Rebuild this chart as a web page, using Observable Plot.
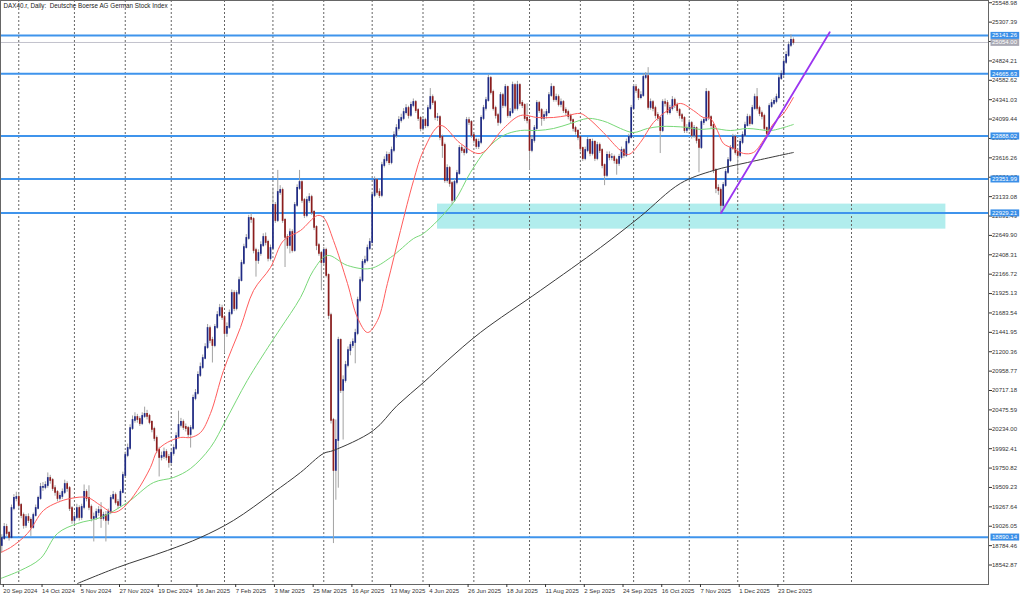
<!DOCTYPE html>
<html><head><meta charset="utf-8">
<script src="https://cdn.jsdelivr.net/npm/d3@7"></script>
<script src="https://cdn.jsdelivr.net/npm/@observablehq/plot@0.6"></script>
<style>
html,body{margin:0;padding:0;background:#fff;}
#chart svg{display:block;}
</style></head><body><div id="chart"></div>
<script>
const title = "DAX40.r, Daily:  Deutsche Boerse AG German Stock Index";
const dateLabels = ["20 Sep 2024","14 Oct 2024","5 Nov 2024","27 Nov 2024","19 Dec 2024","16 Jan 2025","7 Feb 2025","3 Mar 2025","25 Mar 2025","16 Apr 2025","13 May 2025","4 Jun 2025","26 Jun 2025","18 Jul 2025","11 Aug 2025","2 Sep 2025","24 Sep 2025","16 Oct 2025","7 Nov 2025","1 Dec 2025","23 Dec 2025"];
const labelBars = [0,16,32,48,64,80,96,112,128,144,160,176,192,208,224,240,256,272,288,304,320];
const monthBars = [7,30,51,70,92,112,133,153,174,195,218,239,261,284,304,323,351];
const yTicks = [18542.87,18784.46,19026.05,19267.64,19509.23,19750.82,19992.41,20234.00,20475.59,20717.18,20958.77,21200.36,21441.95,21683.54,21925.13,22166.72,22408.31,22649.90,22891.49,23133.08,23374.67,23616.26,23857.85,24099.44,24341.03,24582.62,24824.21,25065.80,25307.39,25548.98];
const levels = [25141.26,24665.63,23888.02,23351.99,22929.21,18890.14];

const firstOpen = 18786;
const closes = [
18873,19011,18936,18886,19247,19372,19384,19285,19160,19035,
19135,19098,19011,19160,19247,19372,19509,19509,19534,19621,
19596,19496,19447,19372,19397,19447,19546,19496,19247,19098,
19135,19247,19135,19260,19447,19372,19260,19123,19135,19197,
19222,19123,19160,19098,19197,19372,19409,19322,19285,19447,
19658,19908,19995,20244,20344,20381,20356,20306,20394,20419,
20394,20319,20232,20120,19970,19883,19895,19945,19883,19820,
19933,19995,20144,20282,20319,20257,20244,20169,20244,20618,
20680,20905,21004,21116,21253,21490,21341,21278,21503,21652,
21739,21627,21428,21503,21677,21926,21739,21926,22088,22300,
22499,22612,22861,22848,22462,22337,22425,22524,22624,22562,
22362,22487,23023,22836,23185,23210,22836,22624,22524,22686,
22462,23023,23235,23309,23085,22898,23085,23122,22936,22749,
22524,22425,22313,22462,22151,21652,20344,19721,20095,21341,
20718,20842,21029,21216,21278,21316,21428,21839,22088,22313,
22337,22487,22562,23147,23334,23185,23147,23521,23583,23646,
23558,23708,23895,23982,24082,24107,24181,24231,24144,24269,
24306,24206,24107,23982,24082,24019,24231,24368,24306,24119,
24119,23870,23770,23334,23484,23297,23085,23309,23421,23733,
23708,23683,24082,24057,23895,23833,23758,23808,24107,24231,
24331,24605,24431,24231,24144,24057,24393,24269,24493,24144,
24181,24518,24231,24518,24294,24269,24107,24082,23708,23833,
23982,24294,24206,24107,24144,24181,24393,24493,24343,24368,
24281,24306,24206,24181,24132,24082,23982,23945,23870,23733,
23608,23708,23833,23671,23808,23608,23770,23708,23521,23397,
23646,23621,23621,23583,23546,23621,23708,23646,23808,23870,
24231,24493,24456,24368,24393,24618,24630,24244,24306,24231,
24144,24107,23957,24306,24294,24181,24231,24331,24269,24206,
24144,24107,23957,23982,24044,23895,23982,23833,23745,24057,
24082,24431,24119,24019,23459,23235,23210,23023,23272,23434,
23583,23733,23870,23683,23646,23808,23895,24019,24119,24044,
24231,24368,24231,24169,24132,23982,23920,24256,24294,24319,
24368,24605,24655,24805,24892,25016,25079,25054];
const highs = [
18920,19060,19050,18960,19290,19420,19450,19420,19310,19190,
19170,19180,19130,19190,19290,19400,19560,19570,19580,19690,
19660,19620,19530,19470,19440,19490,19600,19580,19520,19270,
19190,19300,19280,19300,19540,19480,19530,19290,19190,19240,
19270,19320,19200,19210,19240,19410,19460,19440,19360,19480,
19700,19950,20050,20290,20400,20440,20420,20390,20440,20510,
20470,20420,20340,20260,20150,20010,19950,20000,19980,19920,
19970,20040,20190,20460,20370,20350,20300,20270,20280,20660,
20730,20950,21060,21160,21300,21540,21520,21380,21540,21700,
21790,21780,21650,21560,21720,21970,21960,21960,22130,22340,
22540,22660,22900,22920,22870,22490,22470,22570,22670,22680,
22590,22530,23240,23060,23460,23270,23240,22860,22660,22730,
22720,23060,23280,23460,23330,23110,23130,23170,23150,22960,
22770,22550,22450,22500,22490,22170,21680,20370,20350,21380,
21360,20900,21080,21260,21320,21360,21480,21880,22130,22350,
22390,22530,22610,23190,23380,23360,23230,23560,23630,23690,
23680,23750,23940,24030,24130,24160,24230,24280,24260,24310,
24350,24330,24230,24130,24130,24110,24270,24480,24400,24330,
24170,24140,23900,23800,23530,23510,23320,23350,23460,23770,
23770,23740,24120,24120,24080,23920,23860,23850,24140,24270,
24370,24650,24630,24460,24260,24170,24430,24420,24530,24510,
24230,24560,24540,24570,24540,24330,24290,24290,24100,23880,
24020,24330,24320,24230,24190,24220,24430,24540,24510,24410,
24400,24350,24330,24240,24210,24160,24100,24010,23970,23890,
23750,23750,23870,23850,23850,23830,23810,23800,23730,23540,
23690,23690,23670,23650,23610,23660,23750,23730,23850,23910,
24270,24530,24530,24480,24440,24660,24680,24740,24350,24330,
24260,24180,24130,24340,24350,24330,24270,24380,24360,24300,
24230,24170,24130,24030,24090,24070,24020,24000,23860,24090,
24120,24480,24450,24140,24040,23480,23280,23240,23310,23470,
23620,23770,23910,23900,23720,23850,23940,24060,24160,24150,
24270,24410,24480,24260,24200,24160,24000,24290,24340,24360,
24410,24640,24700,24850,24940,25060,25150,25110];
const lows = [
18690,18850,18900,18840,18870,19220,19330,19250,19120,18990,
19000,19060,18900,18990,19140,19230,19350,19460,19480,19500,
19550,19460,19400,19330,19340,19360,19420,19450,19210,19050,
19040,19110,19090,19100,19230,19330,19220,19080,18830,19100,
19150,19000,19090,18830,19040,19170,19350,19290,19240,19260,
19430,19640,19880,19970,20220,20310,20310,20270,20280,20370,
20350,20290,20190,20080,19930,19640,19840,19860,19840,19750,
19790,19900,19970,20120,20250,20220,20200,20130,20000,20220,
20590,20660,20880,20980,21100,21230,21300,21060,21250,21480,
21630,21590,21180,21380,21480,21650,21700,21710,21900,22070,
22280,22480,22590,22800,22420,22130,22290,22390,22500,22520,
22320,22330,22460,22800,22810,23150,22800,22250,22480,22420,
22430,22440,23000,23210,23050,22860,22870,23050,22900,22710,
22460,22390,21960,22280,22120,21600,20300,18810,19350,19500,
20680,20100,20810,21000,21150,21240,21050,21400,21810,22060,
22280,22310,22460,22540,23120,23150,23110,23120,23490,23550,
23520,23530,23680,23860,23950,24050,24080,24150,24100,24120,
24240,24170,24070,23940,23950,23980,23990,24210,24270,24080,
24070,23830,23610,23300,23300,23250,23030,23060,23280,23400,
23670,23640,23660,24020,23860,23790,23720,23720,23780,24080,
24200,24310,24400,24200,24100,24010,24030,24230,24240,24110,
24110,24160,24200,24200,24260,24230,24070,24040,23460,23680,
23800,23960,24170,24010,24070,24100,24160,24370,24310,24310,
24250,24240,24170,24140,24090,24040,23940,23900,23830,23690,
23570,23580,23680,23630,23640,23570,23580,23670,23480,23270,
23370,23580,23580,23540,23400,23510,23590,23610,23620,23780,
23850,24210,24420,24330,24340,24370,24590,24210,24210,24190,
24100,24070,23670,23930,24250,24150,24150,24200,24230,24170,
24100,24060,23920,23920,23950,23850,23860,23790,23430,23720,
24020,24060,24080,23980,23420,23170,23150,22930,22990,23250,
23410,23560,23710,23650,23420,23620,23780,23870,24000,24010,
24020,24210,24200,24130,24090,23950,23890,23900,24230,24270,
24290,24340,24580,24630,24780,24870,24990,25020];

const ma20Bar = [-0.5,3.6,10.6,17.2,23,28.4,35.4,40.8,46.1,50.3,56,61.4,64.3,68.4,73.8,78,82.1,86.2,91.6,98.6,104,111,116.4,123.4,130.4,132.9,137,142.8,146.9,151.1,155.2,159.3,164.7,170.1,174.2,181.2,189.5,197.7,207.2,214.3,221.3,227.9,233.7,239,241.9,248.5,255.6,258.9,263.8,269.2,275,280.3,285.7,289.8,292.7,295.6,298.1,302.2,306.4,310.5,314.6,318.8,322.9,327];
const ma20Val = [18699,18761,18936,19222,19322,19372,19384,19285,19197,19260,19472,19758,19970,20070,20132,20132,20194,20431,20967,21503,21964,22250,22587,22711,22898,22873,22587,22051,21627,21440,21590,22051,22711,23334,23708,24020,23795,23671,23982,24144,24119,24119,24144,24169,24119,23932,23708,23658,23808,24057,24206,24294,24206,24119,24107,23957,23795,23733,23671,23683,23833,24044,24169,24368];
const ma50Bar = [-0.5,7.7,16,23,31.3,40.8,51.9,62.7,71,78,86.2,92.5,101.4,111,115.1,123.4,128.7,134.5,142.8,152.3,160.6,170.1,174.2,186.6,193.6,200.6,207.2,214.3,221.3,227.9,234.9,241.9,246.1,250.2,255.6,260.9,266.7,272.1,277.4,283.2,288.6,294,301,308,317.5,321.6,327];
const ma50Val = [18375,18475,18624,18936,19060,19135,19322,19571,19634,19746,20007,20344,20842,21303,21490,21876,22213,22400,22275,22238,22375,22611,22674,23060,23434,23733,23895,23957,23957,23982,24044,24107,24094,24057,23982,23932,23982,24007,24007,23995,23970,23982,23957,23982,23957,23982,24032];
const ma200Bar = [31.3,47.8,68.4,82.1,95.7,112.2,123.4,132.9,137,153.5,163.3,174.2,184.1,197.7,222.5,247.3,263.8,280.3,294,308,327];
const ma200Val = [18313,18512,18724,18886,19098,19447,19696,19933,19970,20219,20530,20817,21091,21440,21964,22499,22886,23297,23459,23558,23683];

const zoneBars = [180, 390];
const zonePrices = [22728, 23040];
const trendBars = [297.1, 342];
const trendPrices = [22929, 25182];

const candles = closes.map((c, i) => ({
  i, c, o: i === 0 ? firstOpen : closes[i - 1], h: highs[i], l: lows[i]
}));
const lastClose = closes[closes.length - 1];
const toLine = (bars, vals) => bars.map((b, k) => ({b, v: vals[k]}));
const labelOf = new Map(labelBars.map((b, k) => [b, dateLabels[k]]));
const FONT = "Liberation Sans, Arial, sans-serif";

const chart = Plot.plot({
  width: 1024, height: 597,
  marginLeft: 0, marginRight: 36, marginTop: 0, marginBottom: 13,
  x: {domain: [-0.54, 407.6], axis: null},
  y: {domain: [18300, 25577], axis: null},
  color: {type: "identity"},
  style: {fontFamily: FONT, fontSize: "6px", color: "#333", background: "#fff", overflow: "visible"},
  marks: [
    Plot.rect([0], {x1: () => zoneBars[0], x2: () => zoneBars[1], y1: () => zonePrices[0], y2: () => zonePrices[1], fill: "#b1eded"}),
    Plot.ruleX(monthBars, {stroke: "#666", strokeDasharray: "2,2", strokeWidth: 1}),
    Plot.ruleY(levels, {stroke: "#3f94ec", strokeWidth: 2}),
    Plot.ruleY([lastClose], {stroke: "#c2c2cc", strokeWidth: 1}),
    Plot.ruleX(candles, {x: "i", y1: "l", y2: "h", stroke: "#a2a2a2", strokeWidth: 1}),
    Plot.ruleX(candles, {x: "i", y1: "o", y2: "c", stroke: d => d.c >= d.o ? "#1f2a85" : "#8c1d1d", strokeWidth: 1.7, strokeLinecap: "square"}),
    Plot.line(toLine(ma200Bar, ma200Val), {x: "b", y: "v", stroke: "#3a3a3a", strokeWidth: 1, curve: "catmull-rom", clip: true}),
    Plot.line(toLine(ma50Bar, ma50Val), {x: "b", y: "v", stroke: "#78d878", strokeWidth: 1, curve: "catmull-rom", clip: true}),
    Plot.line(toLine(ma20Bar, ma20Val), {x: "b", y: "v", stroke: "#ff5c5c", strokeWidth: 1, curve: "catmull-rom", clip: true}),
    Plot.line(toLine(trendBars, trendPrices), {x: "b", y: "v", stroke: "#9b35f0", strokeWidth: 1.8}),
    Plot.frame({stroke: "#666"}),
    Plot.axisY({ticks: yTicks, anchor: "right", tickSize: 3, tickPadding: 0.5, tickFormat: d => d.toFixed(2), fontSize: 6, fill: "#333"}),
    Plot.axisX({ticks: labelBars, anchor: "bottom", tickSize: 3, tickPadding: 1, tickFormat: d => labelOf.get(d), textAnchor: "start", dx: 1.5, fontSize: 6, fill: "#333"}),
    Plot.text([title], {frameAnchor: "top-left", dx: 3, dy: 3, lineAnchor: "top", fontSize: 6.3, fill: "#222"}),
    Plot.text([lastClose], {y: d => d, frameAnchor: "right", dx: 3.5, textAnchor: "start", text: d => d.toFixed(2), fill: "white", fontSize: 6}),
    Plot.text(levels, {y: d => d, frameAnchor: "right", dx: 3.5, textAnchor: "start", text: d => d.toFixed(2), fill: "white", fontSize: 6})
  ]
});
document.getElementById("chart").appendChild(chart);

// coloured boxes behind the level / price labels (white text in the right margin)
const boxColour = new Map(levels.map(v => [v.toFixed(2), "#3a8fe8"]));
boxColour.set(lastClose.toFixed(2), "#a9a9b4");
chart.querySelectorAll("text").forEach(t => {
  const g = t.parentNode;
  const fill = t.getAttribute("fill") || (g && g.getAttribute("fill"));
  if (fill !== "white") return;
  const col = boxColour.get(t.textContent.trim());
  if (!col) return;
  const b = t.getBBox();
  const r = document.createElementNS("http://www.w3.org/2000/svg", "rect");
  r.setAttribute("x", b.x - 1.5);
  r.setAttribute("y", b.y - 0.5);
  r.setAttribute("width", b.width + 3);
  r.setAttribute("height", b.height + 1);
  r.setAttribute("fill", col);
  const tr = t.getAttribute("transform");
  if (tr) r.setAttribute("transform", tr);
  g.insertBefore(r, t);
});
</script>
</body></html>
